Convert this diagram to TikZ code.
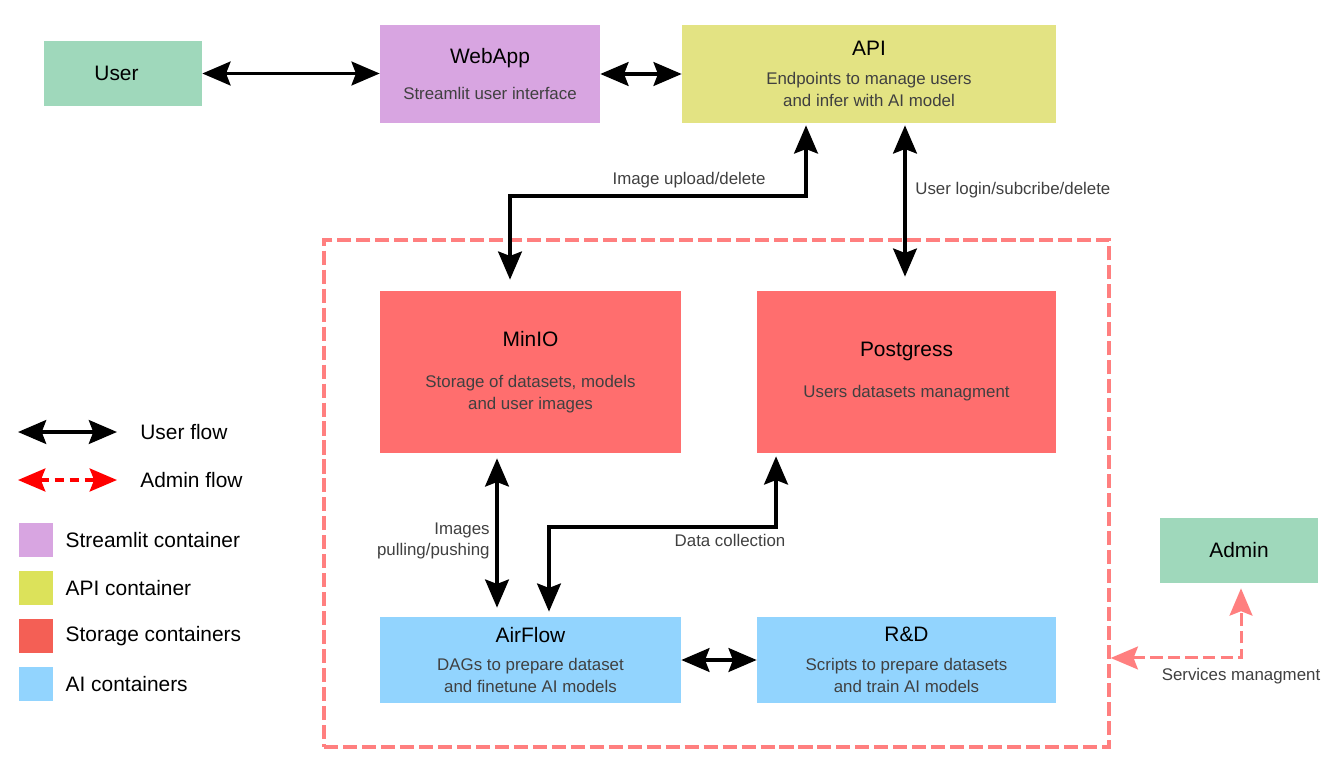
\documentclass[tikz,border=0pt]{standalone}
\usepackage{fontspec}
\setmainfont{Liberation Sans}
\usetikzlibrary{arrows.meta, positioning}

\definecolor{mint}{HTML}{9FD8BB}
\definecolor{lilac}{HTML}{D8A5E1}
\definecolor{apiyellow}{HTML}{E3E383}
\definecolor{apilegend}{HTML}{DCE25A}
\definecolor{storagered}{HTML}{FF6E6E}
\definecolor{storagelegend}{HTML}{F45F55}
\definecolor{aiblue}{HTML}{92D4FE}
\definecolor{framepink}{HTML}{FF7F7F}
\definecolor{desctext}{HTML}{404040}

\tikzset{
    box/.style = {rectangle, inner sep=0pt, align=center, text=desctext,
        font=\fontsize{9.6}{12.5}\selectfont},
    lbl/.style = {inner sep=0pt, text=desctext, font=\fontsize{9.6}{12}\selectfont},
    legendtext/.style = {inner sep=0pt, font=\fontsize{11.9}{14}\selectfont},
    swatch/.style = {rectangle, inner sep=0pt, minimum size=0.68cm},
    userflow/.style = {line width=2.2pt, {Stealth[length=16pt, width=13.5pt, inset=2.5pt]}-{Stealth[length=16pt, width=13.5pt, inset=2.5pt]}},
    adminflow/.style = {line width=1.7pt, draw=framepink, dash pattern=on 7pt off 3pt,
        {Stealth[length=15.5pt, width=13pt, inset=2.5pt]}-{Stealth[length=15.5pt, width=13pt, inset=2.5pt]}},
}

\newcommand{\boxtitle}[1]{{\color{black}\fontsize{11.9}{12.5}\selectfont #1}}

\begin{document}
\begin{tikzpicture}[x=0.02cm, y=-0.02cm]
    \useasboundingbox (0,0) rectangle (1338,774);

    % services frame
    \node[draw=framepink, line width=2pt, dash pattern=on 8pt off 2.8pt,
        minimum width=15.7cm, minimum height=10.14cm] (cluster) at (716.5,493.5) {};

    % containers
    \node[box, fill=mint, minimum width=3.16cm, minimum height=1.3cm] (user) at (123,73.5) {\boxtitle{User}\hspace*{0.26cm}};
    \node[box, fill=lilac, minimum width=4.4cm, minimum height=1.96cm] (webapp) at (490,74)
        {\boxtitle{WebApp}\\[7.8pt]Streamlit user interface};
    \node[box, fill=apiyellow, minimum width=7.48cm, minimum height=1.96cm] (api) at (869,74)
        {\boxtitle{API}\\[3.8pt]Endpoints to manage users\\and infer with AI model};
    \node[box, fill=storagered, minimum width=6.02cm, minimum height=3.24cm] (minio) at (530.5,372)
        {\boxtitle{MinIO}\\[10.6pt]Storage of datasets, models\\and user images};
    \node[box, fill=storagered, minimum width=5.98cm, minimum height=3.24cm] (postgres) at (906.5,372)
        {\boxtitle{Postgress}\\[10.8pt]Users datasets managment};
    \node[box, fill=aiblue, minimum width=6.02cm, minimum height=1.72cm] (airflow) at (530.5,660)
        {\boxtitle{AirFlow}\\[3.8pt]DAGs to prepare dataset\\and finetune AI models};
    \node[box, fill=aiblue, minimum width=5.98cm, minimum height=1.72cm] (rd) at (906.5,660)
        {\boxtitle{R\&D}\\[3.8pt]Scripts to prepare datasets\\and train AI models};
    \node[box, fill=mint, minimum width=3.16cm, minimum height=1.3cm] (admin) at (1239,550.5) {\boxtitle{Admin}};

    % user flow
    \draw[userflow] (user.east) -- (user.east -| webapp.west);
    \draw[userflow] (webapp.east) -- (api.west);
    \draw[userflow, shorten <=0.04cm, shorten >=0.22cm] ([xshift=-1.26cm]api.south) -- ++(0,73) -| ([xshift=-0.41cm]minio.north);
    \draw[userflow, shorten <=0.04cm, shorten >=0.28cm] ([xshift=0.72cm]api.south) -- ([xshift=-0.03cm]postgres.north);
    \draw[userflow, shorten <=0.1cm, shorten >=0.18cm] ([xshift=-0.67cm]minio.south) -- ([xshift=-0.67cm]airflow.north);
    \draw[userflow, shorten <=0.1cm, shorten >=0.06cm] ([xshift=0.37cm]airflow.north) -- ++(0,-90) -| ([xshift=-2.61cm]postgres.south);
    \draw[userflow] (airflow.east) -- (rd.west);

    % admin flow
    \draw[adminflow, shorten >=0.1cm] ([yshift=-3.29cm]cluster.east) -| ([xshift=0.04cm]admin.south);

    % connector labels
    \node[lbl] (uploadlbl) at (689,180) {Image upload/delete};
    \node[lbl, anchor=west] (loginlbl) at (915,190) {User login/subcribe/delete};
    \node[lbl, anchor=east, align=right] (imageslbl) at (490,540.5) {Images\\pulling/pushing};
    \node[lbl] (collectlbl) at (730,540) {Data collection};
    \node[lbl] (serviceslbl) at (1241,676) {Services managment};

    % legend
    \coordinate (uf1) at (18,432);
    \coordinate (uf2) at (117,432);
    \draw[userflow] (uf1) -- (uf2);
    \node[legendtext, anchor=west] (uftext) at (140,432) {User flow};
    \coordinate (af1) at (18,480);
    \coordinate (af2) at (117,480);
    \draw[adminflow, draw=red, line width=2.2pt, dash pattern=on 5.5pt off 3pt] (af1) -- (af2);
    \node[legendtext, anchor=west] (aftext) at (140,480) {Admin flow};

    \node[swatch, fill=lilac] (sw1) at (36,540) {};
    \node[legendtext, right=0.24cm of sw1] (sw1text) {Streamlit container};
    \node[swatch, fill=apilegend] (sw2) at (36,588) {};
    \node[legendtext, right=0.24cm of sw2] (sw2text) {API container};
    \node[swatch, fill=storagelegend] (sw3) at (36,636) {};
    \node[legendtext, right=0.24cm of sw3] (sw3text) {Storage containers};
    \node[swatch, fill=aiblue] (sw4) at (36,684) {};
    \node[legendtext, right=0.24cm of sw4] (sw4text) {AI containers};
\end{tikzpicture}
\end{document}
